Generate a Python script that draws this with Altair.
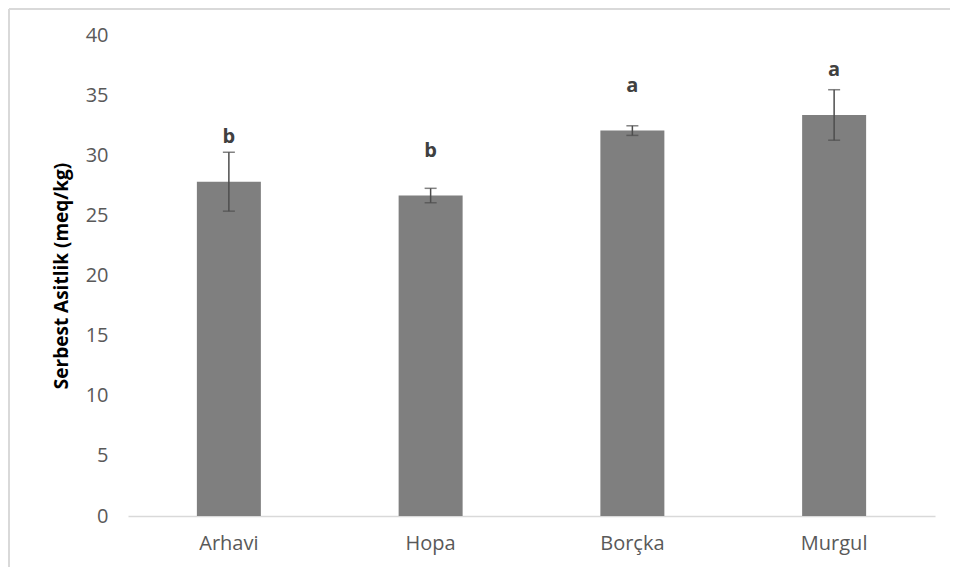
import altair as alt
import pandas as pd

sites = ["Arhavi", "Hopa", "Borçka", "Murgul"]
means = [27.8, 26.65, 32.05, 33.35]
errs = [2.45, 0.6, 0.4, 2.1]
letters = ["b", "b", "a", "a"]

df = pd.DataFrame({
    "site": sites,
    "mean": means,
    "lo": [m - e for m, e in zip(means, errs)],
    "hi": [m + e for m, e in zip(means, errs)],
    "letter": letters,
})

FONT = "Open Sans"

x = alt.X("site:N", sort=sites, title=None,
          scale=alt.Scale(paddingInner=0, paddingOuter=0),
          axis=alt.Axis(labelAngle=0, labelFont=FONT, labelFontSize=20, labelColor="#595959",
                        ticks=False, domainColor="#d9d9d9", domainWidth=1.5, labelPadding=17))

bars = alt.Chart(df).mark_bar(size=64, color="#7f7f7f").encode(
    x=x,
    y=alt.Y("mean:Q", scale=alt.Scale(domain=[0, 40]),
            title="Serbest Asitlik (meq/kg)",
            axis=alt.Axis(values=list(range(0, 41, 5)), grid=False, domain=False, ticks=False,
                          labelFont=FONT, labelFontSize=20, labelColor="#595959", labelPadding=20,
                          titleFont=FONT, titleFontSize=19, titleFontWeight="bold", titleColor="#000000",
                          titlePadding=14)),
)

errbars = alt.Chart(df).mark_rule(color="#4d4d4d", strokeWidth=1.5).encode(
    x=alt.X("site:N", sort=sites), y="lo:Q", y2="hi:Q")
caps_hi = alt.Chart(df).mark_tick(color="#4d4d4d", thickness=1.5, size=12, orient="horizontal").encode(
    x=alt.X("site:N", sort=sites), y="hi:Q")
caps_lo = alt.Chart(df).mark_tick(color="#4d4d4d", thickness=1.5, size=12, orient="horizontal").encode(
    x=alt.X("site:N", sort=sites), y="lo:Q")

labels = alt.Chart(df).mark_text(font=FONT, fontSize=20, fontWeight="bold", color="#404040",
                                 baseline="middle", dy=-45).encode(
    x=alt.X("site:N", sort=sites), y="mean:Q", text="letter:N")

border = alt.Chart(df).mark_rule(color="#d9d9d9", strokeWidth=2).encode(
    x=alt.value(-119), y=alt.value(-26), y2=alt.value(540))
border_top = alt.Chart(df).mark_rule(color="#d9d9d9", strokeWidth=2).encode(
    x=alt.value(-119), x2=alt.value(822), y=alt.value(-26))

chart = alt.layer(bars, errbars, caps_hi, caps_lo, labels, border, border_top).properties(
    width=807, height=481,
    autosize=alt.AutoSizeParams(type="none"),
    padding={"left": 120, "top": 27, "right": 15, "bottom": 51},
).configure_view(stroke=None)

chart.save("out.html", embed_options={"renderer": "svg", "actions": False})
